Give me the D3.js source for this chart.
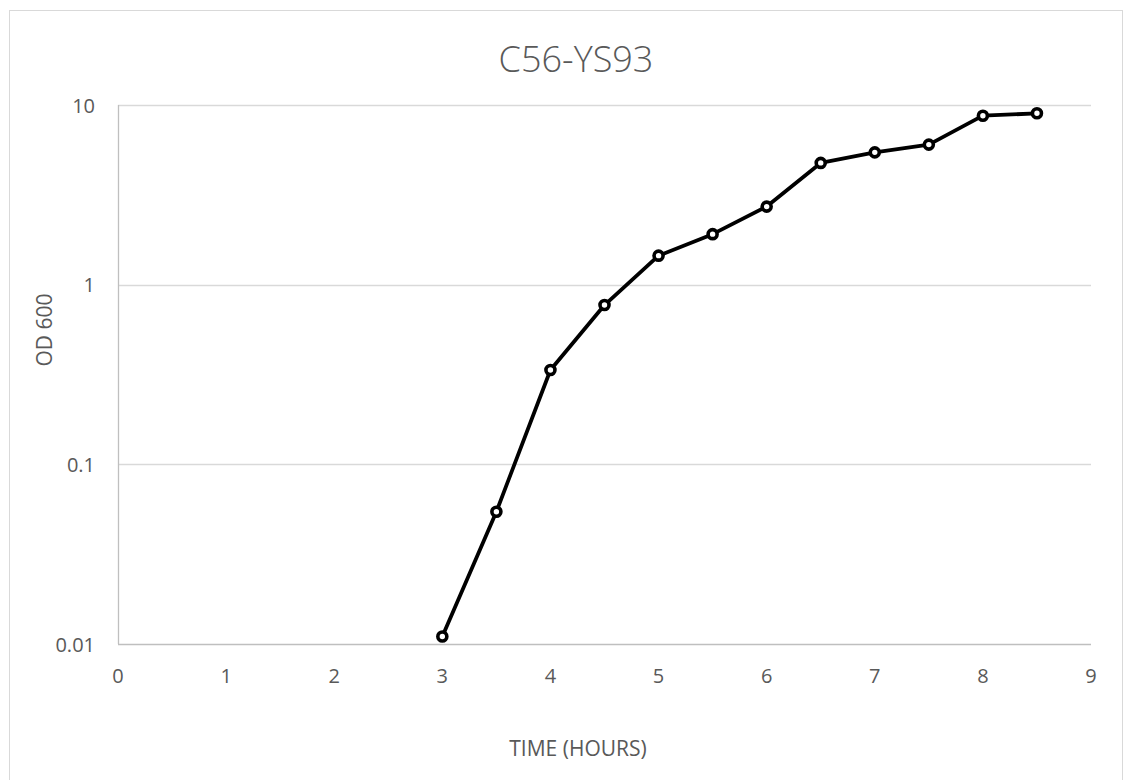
<!DOCTYPE html>
<html>
<head>
<meta charset="utf-8">
<script src="https://cdn.jsdelivr.net/npm/d3@7"></script>
<style>
  html, body { margin: 0; padding: 0; background: #fff; }
  svg text { font-family: "Open Sans", "Noto Sans", sans-serif; fill: #595959; }
</style>
</head>
<body>
<svg id="chart" width="1133" height="780"></svg>
<script>
// Growth curve of strain C56-YS93: optical density at 600 nm over time
const hours = [3, 3.5, 4, 4.5, 5, 5.5, 6, 6.5, 7, 7.5, 8, 8.5];
const od600 = [0.011, 0.0545, 0.335, 0.77, 1.45, 1.91, 2.72, 4.76, 5.45, 6.02, 8.72, 8.99];
const xTicks = [0, 1, 2, 3, 4, 5, 6, 7, 8, 9];
const yTicks = [0.01, 0.1, 1, 10];
const yTickLabels = ["0.01", "0.1", "1", "10"];

const svg = d3.select("#chart");
const plotLeft = 118, plotRight = 1091, plotTop = 105, plotBottom = 644;

// Chart frame
svg.append("rect")
  .attr("x", 9.5).attr("y", 10.5)
  .attr("width", 1113).attr("height", 800)
  .attr("fill", "none").attr("stroke", "#d9d9d9").attr("stroke-width", 1);

const x = d3.scaleLinear().domain([0, 9]).range([plotLeft, plotRight]);
const y = d3.scaleLog().domain([0.01, 10]).range([plotBottom, plotTop]);

// Horizontal gridlines
svg.append("g")
  .selectAll("line")
  .data(yTicks.slice(1))
  .join("line")
  .attr("x1", plotLeft).attr("x2", plotRight)
  .attr("y1", d => Math.round(y(d)) + 0.5).attr("y2", d => Math.round(y(d)) + 0.5)
  .attr("stroke", "#d9d9d9").attr("stroke-width", 1.3);

// Axis lines
svg.append("line")
  .attr("x1", plotLeft + 0.5).attr("x2", plotLeft + 0.5)
  .attr("y1", plotTop).attr("y2", plotBottom)
  .attr("stroke", "#bfbfbf").attr("stroke-width", 1.3);
svg.append("line")
  .attr("x1", plotLeft).attr("x2", plotRight)
  .attr("y1", plotBottom + 0.5).attr("y2", plotBottom + 0.5)
  .attr("stroke", "#bfbfbf").attr("stroke-width", 1.3);

// X tick labels
svg.append("g")
  .selectAll("text")
  .data(xTicks)
  .join("text")
  .attr("x", d => x(d))
  .attr("y", plotBottom + 39)
  .attr("text-anchor", "middle")
  .attr("font-size", 20)
  .text(d => d);

// Y tick labels
svg.append("g")
  .selectAll("text")
  .data(yTicks)
  .join("text")
  .attr("x", 95)
  .attr("y", d => y(d) + 7.5)
  .attr("text-anchor", "end")
  .attr("font-size", 20)
  .text((d, i) => yTickLabels[i]);

// Title
svg.append("text")
  .attr("x", 576)
  .attr("y", 72)
  .attr("text-anchor", "middle")
  .attr("font-size", 36)
  .attr("font-weight", 300)
  .text("C56-YS93");

// Axis titles
svg.append("text")
  .attr("x", 578)
  .attr("y", 756)
  .attr("text-anchor", "middle")
  .attr("font-size", 21)
  .text("TIME (HOURS)");

svg.append("text")
  .attr("transform", "translate(52, 330) rotate(-90)")
  .attr("text-anchor", "middle")
  .attr("font-size", 21)
  .text("OD 600");

// Series line and markers
const pts = hours.map((h, i) => [h, od600[i]]);
svg.append("path")
  .datum(pts)
  .attr("fill", "none")
  .attr("stroke", "#000")
  .attr("stroke-width", 3.8)
  .attr("stroke-linejoin", "round")
  .attr("d", d3.line().x(d => x(d[0])).y(d => y(d[1])));

svg.append("g")
  .selectAll("circle")
  .data(pts)
  .join("circle")
  .attr("cx", d => x(d[0]))
  .attr("cy", d => y(d[1]))
  .attr("r", 4.5)
  .attr("fill", "#fff")
  .attr("stroke", "#000")
  .attr("stroke-width", 3.6);
</script>
</body>
</html>
